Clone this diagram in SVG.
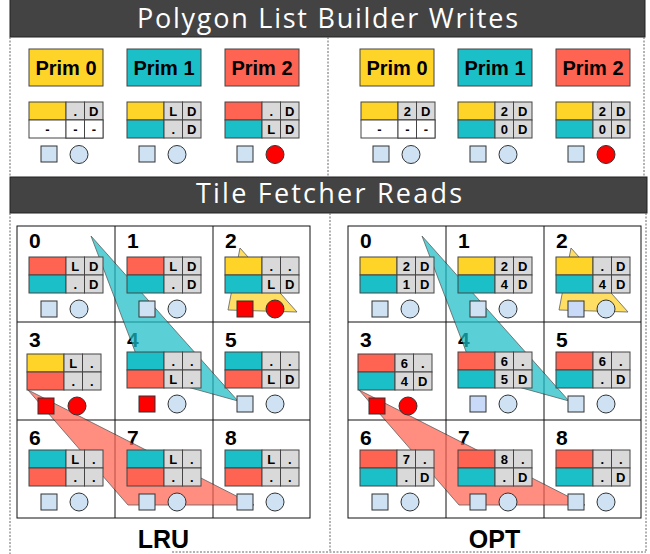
<svg xmlns="http://www.w3.org/2000/svg" width="650" height="554" viewBox="0 0 650 554">
<style>
.bar{fill:#434343;stroke:#222;stroke-width:1}
.ttl{font-family:"Open Sans",Lato,sans-serif;font-size:27px;fill:#fff;text-anchor:middle}
.dash{stroke:#666;stroke-width:1;stroke-dasharray:2,1.5;fill:none}
.ye{fill:#ffd428;stroke:#444;stroke-width:1}
.cy{fill:#1bbfc7;stroke:#444;stroke-width:1}
.rd{fill:#ff6352;stroke:#444;stroke-width:1}
.wh{fill:#fff;stroke:#444;stroke-width:1}
.gr{fill:#d9d9d9;stroke:#444;stroke-width:1}
.t{font-family:"Liberation Sans",Arial,sans-serif;font-weight:bold;font-size:13px;fill:#000;text-anchor:middle}
.pt{font-family:"Liberation Sans",Arial,sans-serif;font-weight:bold;font-size:20px;fill:#000;text-anchor:middle}
.num{font-family:"Liberation Sans",Arial,sans-serif;font-weight:bold;font-size:21px;fill:#000}
.lbl{font-family:"Liberation Sans",Arial,sans-serif;font-weight:bold;font-size:25px;fill:#000;text-anchor:middle}
.sq{fill:#cfe2f3;stroke:#333;stroke-width:1}
.sqb{fill:#c9daf8;stroke:#333;stroke-width:1}
.sqr{fill:#ff0000;stroke:#333;stroke-width:1}
.ci{fill:#cfe2f3;stroke:#333;stroke-width:1}
.cir{fill:#ff0000;stroke:#333;stroke-width:1}
.grid{fill:none;stroke:#111;stroke-width:1}
.tri{opacity:0.72;stroke:#222;stroke-width:0.8}
</style>
<defs>
<g id="g">
<rect class="gr" x="37" y="0" width="18.5" height="18"/>
<rect class="gr" x="55.5" y="0" width="18.5" height="18"/>
<rect class="gr" x="37" y="18" width="18.5" height="18"/>
<rect class="gr" x="55.5" y="18" width="18.5" height="18"/>
</g>
<g id="w2">
<rect class="wh" x="0" y="18" width="37" height="18"/>
<rect class="wh" x="37" y="18" width="18.5" height="18"/>
<rect class="wh" x="55.5" y="18" width="18.5" height="18"/>
<text class="t" x="18.5" y="31.5">-</text>
<text class="t" x="46.3" y="31.5">-</text>
<text class="t" x="64.8" y="31.5">-</text>
</g>
</defs>

<!-- headers and frames -->
<g id="frames">
<rect class="bar" x="10" y="-1" width="635" height="38"/>
<text class="ttl" x="327.5" y="28" textLength="381">Polygon List Builder Writes</text>
<line class="dash" x1="10" y1="37" x2="10" y2="177"/>
<line class="dash" x1="328" y1="37" x2="328" y2="177"/>
<line class="dash" x1="644" y1="37" x2="644" y2="177"/>
<rect class="bar" x="10" y="177" width="637" height="36"/>
<text class="ttl" x="329" y="203" textLength="266">Tile Fetcher Reads</text>
<line class="dash" x1="10" y1="213" x2="10" y2="554"/>
<line class="dash" x1="330" y1="213" x2="330" y2="552"/>
<line class="dash" x1="646" y1="213" x2="646" y2="552"/>
<line class="dash" x1="172" y1="552" x2="646" y2="552"/>
</g>

<!-- top: primitives -->
<g id="prim0-lru"><rect class="ye" x="29" y="49" width="74" height="37"/><text class="pt" x="66" y="74.5">Prim 0</text></g>
<g id="prim1-lru"><rect class="cy" x="127" y="49" width="74" height="37"/><text class="pt" x="164" y="74.5">Prim 1</text></g>
<g id="prim2-lru"><rect class="rd" x="225" y="49" width="74" height="37"/><text class="pt" x="262" y="74.5">Prim 2</text></g>
<g id="prim0-opt"><rect class="ye" x="360" y="49" width="74" height="37"/><text class="pt" x="397" y="74.5">Prim 0</text></g>
<g id="prim1-opt"><rect class="cy" x="458" y="49" width="74" height="37"/><text class="pt" x="495" y="74.5">Prim 1</text></g>
<g id="prim2-opt"><rect class="rd" x="556" y="49" width="74" height="37"/><text class="pt" x="593" y="74.5">Prim 2</text></g>

<!-- top tables -->
<g id="w-lru-0" transform="translate(29,102)">
<rect class="ye" width="37" height="18"/><use href="#g"/><use href="#w2"/>
<text class="t" x="46.3" y="13.5">.</text><text class="t" x="64.8" y="13.5">D</text>
<rect class="sq" x="12" y="44" width="16" height="16"/><circle class="ci" cx="50" cy="52.5" r="9"/>
</g>
<g id="w-lru-1" transform="translate(127,102)">
<rect class="ye" width="37" height="18"/><rect class="cy" y="18" width="37" height="18"/><use href="#g"/>
<text class="t" x="46.3" y="13.5">L</text><text class="t" x="64.8" y="13.5">D</text>
<text class="t" x="46.3" y="31.5">.</text><text class="t" x="64.8" y="31.5">D</text>
<rect class="sq" x="12" y="44" width="16" height="16"/><circle class="ci" cx="50" cy="52.5" r="9"/>
</g>
<g id="w-lru-2" transform="translate(225,102)">
<rect class="rd" width="37" height="18"/><rect class="cy" y="18" width="37" height="18"/><use href="#g"/>
<text class="t" x="46.3" y="13.5">.</text><text class="t" x="64.8" y="13.5">D</text>
<text class="t" x="46.3" y="31.5">L</text><text class="t" x="64.8" y="31.5">D</text>
<rect class="sq" x="12" y="44" width="16" height="16"/><circle class="cir" cx="50" cy="52.5" r="9"/>
</g>
<g id="w-opt-0" transform="translate(361,102)">
<rect class="ye" width="37" height="18"/><use href="#g"/><use href="#w2"/>
<text class="t" x="46.3" y="13.5">2</text><text class="t" x="64.8" y="13.5">D</text>
<rect class="sq" x="12" y="44" width="16" height="16"/><circle class="ci" cx="50" cy="52.5" r="9"/>
</g>
<g id="w-opt-1" transform="translate(458,102)">
<rect class="ye" width="37" height="18"/><rect class="cy" y="18" width="37" height="18"/><use href="#g"/>
<text class="t" x="46.3" y="13.5">2</text><text class="t" x="64.8" y="13.5">D</text>
<text class="t" x="46.3" y="31.5">0</text><text class="t" x="64.8" y="31.5">D</text>
<rect class="sq" x="12" y="44" width="16" height="16"/><circle class="ci" cx="50" cy="52.5" r="9"/>
</g>
<g id="w-opt-2" transform="translate(556,102)">
<rect class="ye" width="37" height="18"/><rect class="cy" y="18" width="37" height="18"/><use href="#g"/>
<text class="t" x="46.3" y="13.5">2</text><text class="t" x="64.8" y="13.5">D</text>
<text class="t" x="46.3" y="31.5">0</text><text class="t" x="64.8" y="31.5">D</text>
<rect class="sq" x="12" y="44" width="16" height="16"/><circle class="cir" cx="50" cy="52.5" r="9"/>
</g>

<!-- grids -->
<g id="grid-lru">
<rect class="grid" x="17" y="226" width="293" height="292"/>
<line class="grid" x1="115" y1="226" x2="115" y2="518"/>
<line class="grid" x1="213" y1="226" x2="213" y2="518"/>
<line class="grid" x1="17" y1="322" x2="310" y2="322"/>
<line class="grid" x1="17" y1="420" x2="310" y2="420"/>
<text class="num" x="29" y="248">0</text><text class="num" x="127" y="248">1</text><text class="num" x="225" y="248">2</text>
<text class="num" x="29" y="347">3</text><text class="num" x="127" y="347">4</text><text class="num" x="225" y="347">5</text>
<text class="num" x="29" y="445">6</text><text class="num" x="127" y="445">7</text><text class="num" x="225" y="445">8</text>
<text class="lbl" x="163.5" y="548">LRU</text>
</g>
<g id="grid-opt">
<rect class="grid" x="348" y="226" width="293" height="292"/>
<line class="grid" x1="446" y1="226" x2="446" y2="518"/>
<line class="grid" x1="544" y1="226" x2="544" y2="518"/>
<line class="grid" x1="348" y1="322" x2="641" y2="322"/>
<line class="grid" x1="348" y1="420" x2="641" y2="420"/>
<text class="num" x="360" y="248">0</text><text class="num" x="458" y="248">1</text><text class="num" x="556" y="248">2</text>
<text class="num" x="360" y="347">3</text><text class="num" x="458" y="347">4</text><text class="num" x="556" y="347">5</text>
<text class="num" x="360" y="445">6</text><text class="num" x="458" y="445">7</text><text class="num" x="556" y="445">8</text>
<text class="lbl" x="494.5" y="548">OPT</text>
</g>

<!-- primitive footprints -->
<g id="connectors">
<polygon class="tri" fill="#1bbfc7" points="91,236 238,401 144,375"/>
<polygon class="tri" fill="#ff6352" points="28,390 128,505 254,505"/>
<polygon class="tri" fill="#ffd428" points="240,248 228,310 297,312"/>
<polygon class="tri" fill="#1bbfc7" points="422,236 569,401 475,375"/>
<polygon class="tri" fill="#ff6352" points="359,390 459,505 585,505"/>
<polygon class="tri" fill="#ffd428" points="571,248 559,310 628,312"/>
</g>

<!-- LRU tiles -->
<g id="lru-0" transform="translate(29,257)">
<rect class="rd" width="37" height="18"/><rect class="cy" y="18" width="37" height="18"/><use href="#g"/>
<text class="t" x="46.3" y="13.5">L</text><text class="t" x="64.8" y="13.5">D</text>
<text class="t" x="46.3" y="31.5">.</text><text class="t" x="64.8" y="31.5">D</text>
<rect class="sq" x="12" y="44" width="16" height="16"/><circle class="ci" cx="50" cy="52" r="9"/>
</g>
<g id="lru-1" transform="translate(127,257)">
<rect class="rd" width="37" height="18"/><rect class="cy" y="18" width="37" height="18"/><use href="#g"/>
<text class="t" x="46.3" y="13.5">L</text><text class="t" x="64.8" y="13.5">D</text>
<text class="t" x="46.3" y="31.5">.</text><text class="t" x="64.8" y="31.5">D</text>
<rect class="sq" x="12" y="44" width="16" height="16"/><circle class="ci" cx="50" cy="52" r="9"/>
</g>
<g id="lru-2" transform="translate(225,257)">
<rect class="ye" width="37" height="18"/><rect class="cy" y="18" width="37" height="18"/><use href="#g"/>
<text class="t" x="46.3" y="13.5">.</text><text class="t" x="64.8" y="13.5">.</text>
<text class="t" x="46.3" y="31.5">L</text><text class="t" x="64.8" y="31.5">D</text>
<rect class="sqr" x="12" y="44" width="16" height="16"/><circle class="cir" cx="50" cy="52" r="9"/>
</g>
<g id="lru-3" transform="translate(27,354)">
<rect class="ye" width="37" height="18"/><rect class="rd" y="18" width="37" height="18"/><use href="#g"/>
<text class="t" x="46.3" y="13.5">L</text><text class="t" x="64.8" y="13.5">.</text>
<text class="t" x="46.3" y="31.5">.</text><text class="t" x="64.8" y="31.5">.</text>
<rect class="sqr" x="11" y="44" width="16" height="16"/><circle class="cir" cx="50" cy="52" r="9"/>
</g>
<g id="lru-4" transform="translate(127,352)">
<rect class="cy" width="37" height="18"/><rect class="rd" y="18" width="37" height="18"/><use href="#g"/>
<text class="t" x="46.3" y="13.5">.</text><text class="t" x="64.8" y="13.5">.</text>
<text class="t" x="46.3" y="31.5">L</text><text class="t" x="64.8" y="31.5">.</text>
<rect class="sqr" x="12" y="44" width="16" height="16"/><circle class="ci" cx="50" cy="52" r="9"/>
</g>
<g id="lru-5" transform="translate(225,352)">
<rect class="cy" width="37" height="18"/><rect class="rd" y="18" width="37" height="18"/><use href="#g"/>
<text class="t" x="46.3" y="13.5">.</text><text class="t" x="64.8" y="13.5">.</text>
<text class="t" x="46.3" y="31.5">L</text><text class="t" x="64.8" y="31.5">D</text>
<rect class="sq" x="12" y="44" width="16" height="16"/><circle class="ci" cx="50" cy="52" r="9"/>
</g>
<g id="lru-6" transform="translate(29,450)">
<rect class="cy" width="37" height="18"/><rect class="rd" y="18" width="37" height="18"/><use href="#g"/>
<text class="t" x="46.3" y="13.5">L</text><text class="t" x="64.8" y="13.5">.</text>
<text class="t" x="46.3" y="31.5">.</text><text class="t" x="64.8" y="31.5">.</text>
<rect class="sq" x="12" y="44" width="16" height="16"/><circle class="ci" cx="50" cy="52" r="9"/>
</g>
<g id="lru-7" transform="translate(127,450)">
<rect class="cy" width="37" height="18"/><rect class="rd" y="18" width="37" height="18"/><use href="#g"/>
<text class="t" x="46.3" y="13.5">L</text><text class="t" x="64.8" y="13.5">.</text>
<text class="t" x="46.3" y="31.5">.</text><text class="t" x="64.8" y="31.5">.</text>
<rect class="sq" x="12" y="44" width="16" height="16"/><circle class="ci" cx="50" cy="52" r="9"/>
</g>
<g id="lru-8" transform="translate(225,450)">
<rect class="cy" width="37" height="18"/><rect class="rd" y="18" width="37" height="18"/><use href="#g"/>
<text class="t" x="46.3" y="13.5">L</text><text class="t" x="64.8" y="13.5">.</text>
<text class="t" x="46.3" y="31.5">.</text><text class="t" x="64.8" y="31.5">.</text>
<rect class="sq" x="12" y="44" width="16" height="16"/><circle class="ci" cx="50" cy="52" r="9"/>
</g>

<!-- OPT tiles -->
<g id="opt-0" transform="translate(360,257)">
<rect class="ye" width="37" height="18"/><rect class="cy" y="18" width="37" height="18"/><use href="#g"/>
<text class="t" x="46.3" y="13.5">2</text><text class="t" x="64.8" y="13.5">D</text>
<text class="t" x="46.3" y="31.5">1</text><text class="t" x="64.8" y="31.5">D</text>
<rect class="sq" x="12" y="44" width="16" height="16"/><circle class="ci" cx="50" cy="52" r="9"/>
</g>
<g id="opt-1" transform="translate(458,257)">
<rect class="ye" width="37" height="18"/><rect class="cy" y="18" width="37" height="18"/><use href="#g"/>
<text class="t" x="46.3" y="13.5">2</text><text class="t" x="64.8" y="13.5">D</text>
<text class="t" x="46.3" y="31.5">4</text><text class="t" x="64.8" y="31.5">D</text>
<rect class="sq" x="12" y="44" width="16" height="16"/><circle class="ci" cx="50" cy="52" r="9"/>
</g>
<g id="opt-2" transform="translate(556,257)">
<rect class="ye" width="37" height="18"/><rect class="cy" y="18" width="37" height="18"/><use href="#g"/>
<text class="t" x="46.3" y="13.5">.</text><text class="t" x="64.8" y="13.5">D</text>
<text class="t" x="46.3" y="31.5">4</text><text class="t" x="64.8" y="31.5">D</text>
<rect class="sqb" x="12" y="44" width="16" height="16"/><circle class="ci" cx="50" cy="52" r="9"/>
</g>
<g id="opt-3" transform="translate(358,354)">
<rect class="rd" width="37" height="18"/><rect class="cy" y="18" width="37" height="18"/><use href="#g"/>
<text class="t" x="46.3" y="13.5">6</text><text class="t" x="64.8" y="13.5">.</text>
<text class="t" x="46.3" y="31.5">4</text><text class="t" x="64.8" y="31.5">D</text>
<rect class="sqr" x="11" y="44" width="16" height="16"/><circle class="cir" cx="50" cy="52" r="9"/>
</g>
<g id="opt-4" transform="translate(458,352)">
<rect class="rd" width="37" height="18"/><rect class="cy" y="18" width="37" height="18"/><use href="#g"/>
<text class="t" x="46.3" y="13.5">6</text><text class="t" x="64.8" y="13.5">.</text>
<text class="t" x="46.3" y="31.5">5</text><text class="t" x="64.8" y="31.5">D</text>
<rect class="sqb" x="12" y="44" width="16" height="16"/><circle class="ci" cx="50" cy="52" r="9"/>
</g>
<g id="opt-5" transform="translate(556,352)">
<rect class="rd" width="37" height="18"/><rect class="cy" y="18" width="37" height="18"/><use href="#g"/>
<text class="t" x="46.3" y="13.5">6</text><text class="t" x="64.8" y="13.5">.</text>
<text class="t" x="46.3" y="31.5">.</text><text class="t" x="64.8" y="31.5">D</text>
<rect class="sq" x="12" y="44" width="16" height="16"/><circle class="ci" cx="50" cy="52" r="9"/>
</g>
<g id="opt-6" transform="translate(360,450)">
<rect class="rd" width="37" height="18"/><rect class="cy" y="18" width="37" height="18"/><use href="#g"/>
<text class="t" x="46.3" y="13.5">7</text><text class="t" x="64.8" y="13.5">.</text>
<text class="t" x="46.3" y="31.5">.</text><text class="t" x="64.8" y="31.5">D</text>
<rect class="sq" x="12" y="44" width="16" height="16"/><circle class="ci" cx="50" cy="52" r="9"/>
</g>
<g id="opt-7" transform="translate(458,450)">
<rect class="rd" width="37" height="18"/><rect class="cy" y="18" width="37" height="18"/><use href="#g"/>
<text class="t" x="46.3" y="13.5">8</text><text class="t" x="64.8" y="13.5">.</text>
<text class="t" x="46.3" y="31.5">.</text><text class="t" x="64.8" y="31.5">D</text>
<rect class="sq" x="12" y="44" width="16" height="16"/><circle class="ci" cx="50" cy="52" r="9"/>
</g>
<g id="opt-8" transform="translate(556,450)">
<rect class="rd" width="37" height="18"/><rect class="cy" y="18" width="37" height="18"/><use href="#g"/>
<text class="t" x="46.3" y="13.5">.</text><text class="t" x="64.8" y="13.5">.</text>
<text class="t" x="46.3" y="31.5">.</text><text class="t" x="64.8" y="31.5">D</text>
<rect class="sq" x="12" y="44" width="16" height="16"/><circle class="ci" cx="50" cy="52" r="9"/>
</g>
</svg>
